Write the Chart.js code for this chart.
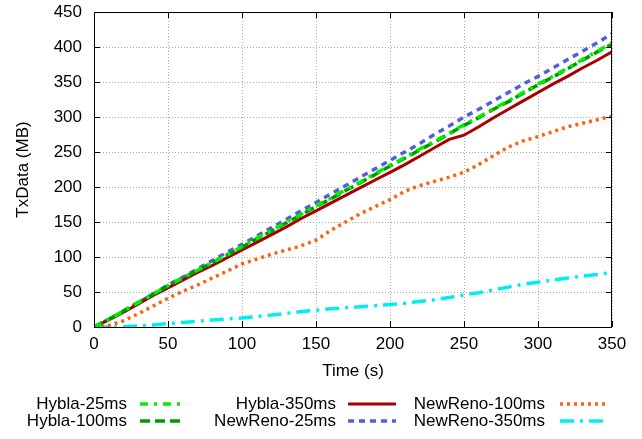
<!DOCTYPE html>
<html><head><meta charset="utf-8">
<script src="https://cdn.jsdelivr.net/npm/chart.js@4/dist/chart.umd.min.js"></script>
<style>html,body{margin:0;padding:0;background:#fff;} #wrap{width:642px;height:439px;position:relative;}</style>
</head><body><div id="wrap"><canvas id="c"></canvas></div>
<script>
// ---- data ----
const times = [0,10,20,30,40,50,60,70,80,90,100,110,120,130,140,150,160,170,180,190,200,210,220,230,240,250,260,270,280,290,300,310,320,330,340,350];
const hybla25ms   = [0,11,23,35,47,59,70,81,92,103,115,127,138,150,161,173,184,196,207,219,231,242,254,265,277,289,300,312,323,335,347,358,370,382,394,406];
const hybla100ms  = [0,11,23,35,47,59,70,81,92,103,114,126,137,149,160,172,183,195,206,218,230,241,253,264,276,288,299,311,322,334,346,357,369,381,393,404];
const hybla350ms  = [0,10,21,33,45,56,67,78,88,99,110,121,132,143,155,166,177,188,199,210,221,232,244,256,268,274,286,299,311,323,335,347,358,370,381,393];
const newreno25ms = [0,11,23,35,47,60,71,83,95,107,118,130,142,154,166,178,190,202,214,226,238,250,262,275,287,300,311,323,335,347,358,370,382,394,406,419];
const newreno100ms= [0,2,9,19,30,41,51,60,70,80,90,97,104,110,116,124,138,150,162,172,182,194,202,208,214,221,232,245,257,266,272,279,286,291,296,301];
const newreno350ms= [0,0,0.5,1.5,3,5,6.5,8,10,11.5,13,15,17,19.5,22,24,26,27.5,29,30.5,32,34,36.5,39,42,46,49,53,57,61,64,67,70,72.5,75,78];
const seriesNames = ['Hybla-25ms','Hybla-100ms','Hybla-350ms','NewReno-25ms','NewReno-100ms','NewReno-350ms'];
const seriesValues = [hybla25ms, hybla100ms, hybla350ms, newreno25ms, newreno100ms, newreno350ms];
const xTickStep = 50, xMax = 350;
const yTickStep = 50, yMax = 450;
const xTitle = 'Time (s)';
const yTitle = 'TxData (MB)';

// ---- styles ----
const styles = [
  {color:'#00ee00', dash:[8,6,3,6], width:3.5},
  {color:'#009a00', dash:[10,5], width:3.5},
  {color:'#a80000', dash:[], width:3},
  {color:'#5060d8', dash:[6,5], width:3.5},
  {color:'#ff6010', dash:[3,4], width:3.5},
  {color:'#00eeee', dash:[14,6,3,6], width:3.5}
];
const FONT = {family:'"Liberation Sans", Arial, Helvetica, sans-serif', size:17};

const datasets = seriesNames.map((name,i)=>({
  label: name,
  data: times.map((t,j)=>({x:t, y:seriesValues[i][j]})),
  borderColor: styles[i].color,
  borderDash: styles[i].dash,
  borderWidth: styles[i].width,
  pointRadius: 0,
  fill: false,
  tension: 0
}));

const gridPlugin = {
  id:'dotGrid',
  beforeDatasetsDraw(chart){
    const {ctx, chartArea:a, scales:{x,y}} = chart;
    ctx.save();
    ctx.strokeStyle = '#a8a8a8';
    ctx.lineWidth = 1;
    ctx.setLineDash([1,2]);
    ctx.beginPath();
    x.ticks.forEach(t=>{
      const px = Math.round(x.getPixelForValue(t.value))+0.5;
      ctx.moveTo(px, a.top); ctx.lineTo(px, a.bottom);
    });
    y.ticks.forEach(t=>{
      const py = Math.round(y.getPixelForValue(t.value))+0.5;
      ctx.moveTo(a.left, py); ctx.lineTo(a.right, py);
    });
    ctx.stroke();
    ctx.restore();
  }
};

const framePlugin = {
  id:'frame',
  afterDatasetsDraw(chart){
    const {ctx, chartArea:a, scales:{x,y}} = chart;
    ctx.save();
    ctx.strokeStyle = '#000';
    ctx.lineWidth = 1;
    ctx.setLineDash([]);
    ctx.strokeRect(Math.round(a.left)+0.5, Math.round(a.top)+0.5, Math.round(a.right-a.left)-1, Math.round(a.bottom-a.top));
    const L = 6;
    ctx.beginPath();
    x.ticks.forEach(t=>{
      const px = Math.round(x.getPixelForValue(t.value))+0.5;
      ctx.moveTo(px, a.bottom); ctx.lineTo(px, a.bottom-L);
      ctx.moveTo(px, a.top); ctx.lineTo(px, a.top+L);
    });
    y.ticks.forEach(t=>{
      const py = Math.round(y.getPixelForValue(t.value))+0.5;
      ctx.moveTo(a.left, py); ctx.lineTo(a.left+L, py);
      ctx.moveTo(a.right, py); ctx.lineTo(a.right-L, py);
    });
    ctx.stroke();
    ctx.restore();
  }
};

const legendPlugin = {
  id:'keyBelow',
  afterDraw(chart, args, opts){
    const {ctx} = chart;
    ctx.save();
    ctx.font = FONT.size + 'px ' + FONT.family;
    ctx.fillStyle = '#000';
    ctx.textAlign = 'right';
    ctx.textBaseline = 'middle';
    chart.data.datasets.forEach((ds,i)=>{
      const col = Math.floor(i/2), row = i%2;
      const tx = opts.textRight[col], y = opts.rows[row];
      ctx.fillText(ds.label, tx, y);
      const s0 = opts.sampleStart[col], s1 = opts.sampleEnd[col];
      ctx.beginPath();
      ctx.strokeStyle = ds.borderColor;
      ctx.lineWidth = ds.borderWidth;
      ctx.setLineDash(ds.borderDash);
      ctx.moveTo(s0, y); ctx.lineTo(s1, y);
      ctx.stroke();
    });
    ctx.restore();
  }
};

new Chart(document.getElementById('c'), {
  type:'line',
  data:{datasets},
  plugins:[gridPlugin, framePlugin, legendPlugin],
  options:{
    responsive:true, maintainAspectRatio:false, animation:false,
    layout:{padding:{left:0, right:30, top:12, bottom:54}},
    plugins:{
      legend:{display:false}, tooltip:{enabled:false},
      keyBelow:{textRight:[127,336,545], sampleStart:[140,348,560], sampleEnd:[184,396,605], rows:[404,421]}
    },
    scales:{
      x:{
        type:'linear', min:0, max:xMax,
        ticks:{stepSize:xTickStep, font:FONT, color:'#000', padding:7, maxRotation:0},
        grid:{display:false, drawTicks:false},
        border:{display:false},
        title:{display:true, text:xTitle, font:FONT, color:'#000', padding:{top:0,bottom:3}},
        afterFit(s){ s.height = 58; s.paddingLeft = 0; s.paddingRight = 0; }
      },
      y:{
        type:'linear', min:0, max:yMax,
        ticks:{stepSize:yTickStep, font:FONT, color:'#000', padding:12},
        grid:{display:false, drawTicks:false},
        border:{display:false},
        title:{display:true, text:yTitle, font:FONT, color:'#000', padding:{top:13,bottom:0}},
        afterFit(s){ s.width = 94; s.paddingTop = 0; s.paddingBottom = 0; }
      }
    }
  }
});
</script>
</body></html>
